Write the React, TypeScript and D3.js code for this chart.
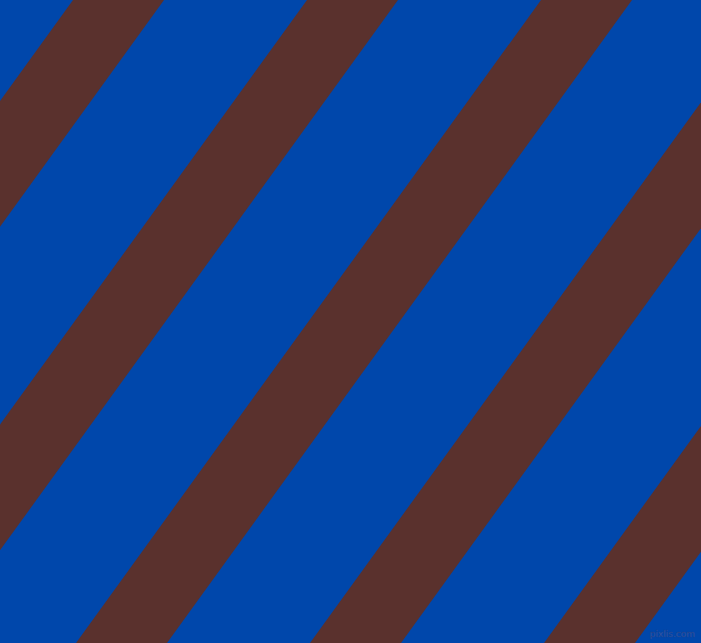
import * as d3 from 'd3';
import * as React from 'react';

const { useRef, useEffect } = React;

const width = 701;
const height = 643;

// stripe order, left to right
const stripes = [0, 1, 2, 3, 4];
const colors = { background: '#0047ab', stripe: '#5a312d' };
const watermark = 'pixlis.com';

export default () => {
  const rootRef = useRef<SVGSVGElement>(null);

  useEffect(() => {
    const svgEl = rootRef.current;
    if (!svgEl) {
      return;
    }

    const svg = d3.select(svgEl);
    svg.selectAll('*').remove();

    // top edge of each stripe along y = 0
    const x = d3.scaleLinear().domain([0, 1]).range([73, 307]);
    const bandWidth = 91;
    // horizontal drift of a stripe from top to bottom
    const drift = d3.scaleLinear().domain([0, height]).range([0, -465]);

    svg
      .append('rect')
      .attr('width', width)
      .attr('height', height)
      .attr('fill', colors.background);

    const line = d3.line<[number, number]>();

    svg
      .append('g')
      .selectAll('path')
      .data(stripes)
      .join('path')
      .attr('fill', colors.stripe)
      .attr('d', d => {
        const x0 = x(d);
        return (
          line([
            [x0, 0],
            [x0 + bandWidth, 0],
            [x0 + bandWidth + drift(height), height],
            [x0 + drift(height), height],
          ]) + 'Z'
        );
      });

    svg
      .append('text')
      .attr('x', width - 6)
      .attr('y', height - 6)
      .attr('text-anchor', 'end')
      .attr('font-family', 'DejaVu Sans, sans-serif')
      .attr('font-size', 9)
      .attr('fill', '#3f66b8')
      .attr('stroke', '#1a3f8c')
      .attr('stroke-width', 0.4)
      .text(watermark);
  }, []);

  return (
    <svg
      ref={rootRef}
      width={width}
      height={height}
      style={{ position: 'absolute', left: 0, top: 0, display: 'block' }}
    />
  );
};
